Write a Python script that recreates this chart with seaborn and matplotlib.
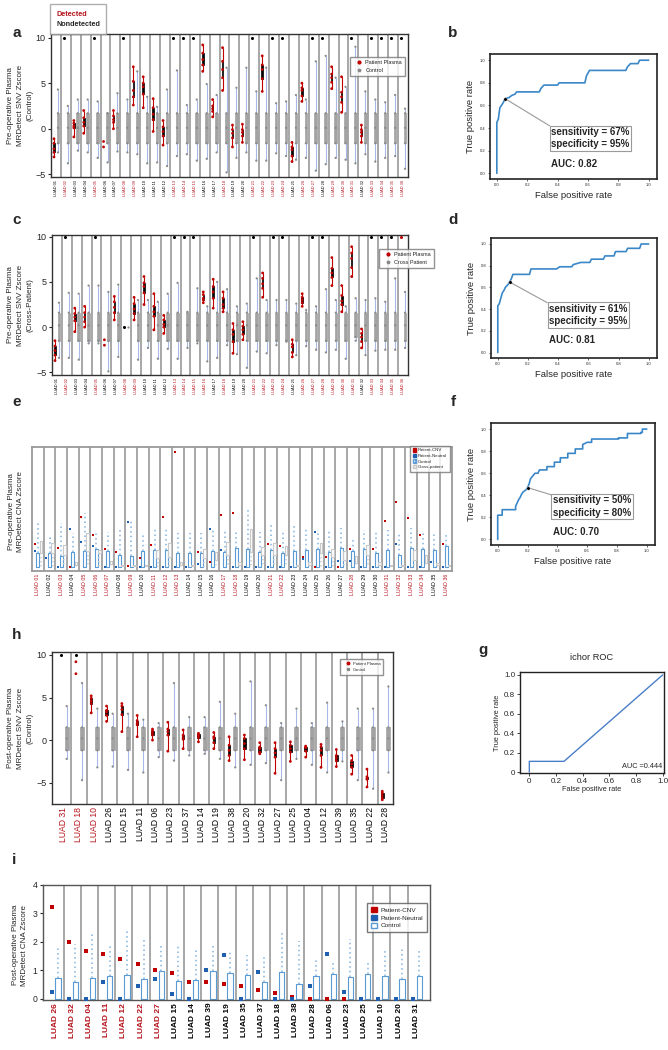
import numpy as np
import pandas as pd
import matplotlib
matplotlib.use("Agg")
import matplotlib.pyplot as plt
import seaborn as sns
from matplotlib.lines import Line2D
from matplotlib.patches import Patch

sns.set_theme(style="ticks")
plt.rcParams['font.family'] = ['Liberation Sans', 'DejaVu Sans']

# ---------------- data ----------------
luad36 = [f"LUAD {i:02d}" for i in range(1, 37)]

# panel a : pre-op SNV Z vs control
det_a = ["LUAD 02", "LUAD 05", "LUAD 08", "LUAD 09", "LUAD 13", "LUAD 14", "LUAD 15", "LUAD 18",
         "LUAD 21", "LUAD 22", "LUAD 23", "LUAD 24", "LUAD 26", "LUAD 27", "LUAD 29", "LUAD 30",
         "LUAD 31", "LUAD 33", "LUAD 34", "LUAD 35", "LUAD 36"]
top_a = ["LUAD 02", "LUAD 05", "LUAD 08", "LUAD 13", "LUAD 14", "LUAD 15", "LUAD 21", "LUAD 23",
         "LUAD 24", "LUAD 27", "LUAD 28", "LUAD 31", "LUAD 33", "LUAD 34", "LUAD 35", "LUAD 36"]
pat_a = {
    "LUAD 01": [-3.1, -2.6, -2.2, -1.6, -1.1], "LUAD 03": [-0.9, 0.1, 0.3, 0.6, 0.9],
    "LUAD 04": [-0.5, 0.3, 0.7, 1.2, 2.0], "LUAD 06": [-2.0, -1.4],
    "LUAD 07": [0.0, 0.7, 1.0, 1.4, 2.0], "LUAD 09": [2.6, 3.5, 4.2, 5.2, 6.8],
    "LUAD 10": [2.3, 3.8, 4.6, 5.0, 5.7], "LUAD 11": [-0.3, 1.0, 1.6, 2.3, 3.3],
    "LUAD 12": [-1.8, -0.8, -0.3, 0.2, 0.9], "LUAD 16": [6.3, 7.0, 7.6, 8.3, 9.2],
    "LUAD 17": [1.3, 1.9, 2.2, 2.5, 3.2], "LUAD 18": [4.2, 5.6, 6.5, 7.4, 8.9],
    "LUAD 19": [-2.0, -1.0, -0.5, -0.1, 0.4], "LUAD 20": [-1.5, -0.8, -0.4, -0.1, 0.5],
    "LUAD 22": [4.1, 5.5, 6.5, 7.0, 8.0], "LUAD 25": [-3.6, -3.0, -2.3, -2.0, -1.5],
    "LUAD 26": [3.0, 3.6, 4.2, 4.5, 5.0], "LUAD 29": [4.4, 5.1, 5.6, 6.0, 6.8],
    "LUAD 30": [1.8, 2.9, 3.5, 4.0, 5.7], "LUAD 32": [-1.5, -0.8, -0.4, -0.1, 0.4],
}
ctrl_box_a = [-1.6, 0.1, 1.7]
ctrl_lo_a = [-2.6, -3.8, -2.4, -2.6, -3.2, -3.7, -2.5, -2.6, -2.8, -3.8, -3.7, -4.1, -3.0, -2.8, -3.5, -3.3, -2.6, -4.8,
             -3.2, -2.6, -3.5, -3.5, -2.7, -3.0, -3.4, -3.2, -4.6, -3.9, -3.2, -3.4, -3.8, -2.8, -3.6, -3.2, -3.0, -4.4]
ctrl_hi_a = [4.3, 2.5, 3.2, 3.2, 3.0, 1.7, 3.9, 3.2, 6.3, 3.5, 2.4, 4.3, 6.4, 2.6, 3.2, 4.9, 3.7, 6.7,
             4.5, 6.7, 4.1, 6.7, 2.8, 3.0, 3.7, 3.2, 7.4, 8.0, 5.6, 4.6, 9.0, 4.1, 3.2, 2.9, 3.7, 2.2]

# panel c : pre-op SNV Z vs cross patient
det_c = det_a + ["LUAD 16", "LUAD 28"]
top_c = ["LUAD 02", "LUAD 05", "LUAD 13", "LUAD 14", "LUAD 15", "LUAD 21", "LUAD 23", "LUAD 24",
         "LUAD 27", "LUAD 28", "LUAD 33", "LUAD 34", "LUAD 35"]
top_red_c = ["LUAD 36"]
pat_c = {
    "LUAD 01": [-3.7, -3.1, -2.6, -2.1, -1.5], "LUAD 03": [-0.5, 0.7, 1.1, 1.5, 2.1],
    "LUAD 04": [0.0, 0.6, 1.1, 1.6, 2.3], "LUAD 06": [-2.0, -1.4],
    "LUAD 07": [0.8, 1.6, 2.2, 2.8, 3.4], "LUAD 09": [0.8, 1.5, 2.0, 2.6, 3.3],
    "LUAD 10": [2.5, 3.8, 4.5, 4.9, 5.6], "LUAD 11": [-0.3, 1.2, 1.7, 2.3, 3.7],
    "LUAD 12": [-0.7, 0.0, 0.3, 0.8, 1.3], "LUAD 16": [2.7, 3.0, 3.2, 3.6, 3.9],
    "LUAD 17": [2.1, 3.2, 3.9, 4.5, 5.3], "LUAD 18": [1.7, 2.1, 2.5, 3.2, 3.9],
    "LUAD 19": [-2.9, -1.6, -0.8, -0.3, 0.4], "LUAD 20": [-1.4, -0.8, -0.3, 0.1, 0.6],
    "LUAD 22": [3.3, 4.3, 4.8, 5.4, 6.0], "LUAD 25": [-3.3, -2.8, -2.2, -1.9, -1.4],
    "LUAD 26": [2.3, 2.7, 3.0, 3.3, 3.7], "LUAD 29": [4.6, 5.5, 6.0, 6.5, 7.7],
    "LUAD 30": [1.7, 2.5, 2.9, 3.5, 4.6], "LUAD 31": [5.6, 6.6, 7.6, 8.2, 8.9],
    "LUAD 32": [-2.3, -1.6, -1.1, -0.7, -0.2],
}
zero_c = ["LUAD 08"]
ctrl_box_c = [-1.5, 0.2, 1.6]
ctrl_lo_c = [-3.4, -3.4, -3.6, -1.8, -1.8, -4.9, -3.3, None, -3.6, -2.3, -3.5, -2.4, -3.5, -2.3, -1.8, -3.8, -3.4, -2.0,
             -3.0, -4.5, -2.7, -2.9, -2.0, -1.6, -3.1, -2.1, -2.5, -2.8, -2.5, -3.5, -1.1, -3.1, -2.6, -2.5, -2.5, -2.3]
ctrl_hi_c = [2.7, 3.8, 3.7, 4.6, 4.6, 3.9, 4.7, None, 3.0, 3.0, 2.8, 3.7, 4.9, 1.7, 4.3, 2.3, 5.0, 4.2,
             2.3, 2.6, 5.4, 3.0, 3.0, 3.0, 2.6, 1.9, 2.3, 4.2, 3.0, 2.3, 3.2, 3.0, 3.2, 2.8, 5.4, 3.9]

# panel e : pre-op CNA Z
det_e = ["LUAD 01", "LUAD 03", "LUAD 05", "LUAD 06", "LUAD 07", "LUAD 09", "LUAD 11", "LUAD 12", "LUAD 13",
         "LUAD 17", "LUAD 18", "LUAD 21", "LUAD 22", "LUAD 28", "LUAD 31", "LUAD 32", "LUAD 33", "LUAD 34", "LUAD 36"]
cnv_e = [1.24, None, 1.06, 0.0, 2.74, 1.76, 0.98, 0.83, 0.04, 0.5, 1.2, 2.78, 6.35, None, 0.83, 0.28, 2.87, 3.0,
         None, None, 1.26, 1.15, None, 0.52, 0.0, 0.52, 0.0, 0.96, None, 0.96, 2.54, 3.6, 2.72, 1.76, 0.24, 1.24]
neu_e = [0.89, 0.46, 0.0, 2.09, 1.37, 1.15, 0.0, 0.0, 2.5, 0.0, 0.0, 0.0, 0.0, 0.0, 0.13, 2.07, 0.93, 0.0,
         0.0, 0.0, 0.0, 0.0, 0.0, 0.41, 1.9, 0.0, 0.33, 0.33, 0.0, 0.0, 0.0, 1.24, 0.0, 0.0, 0.28, 0.0]
ctrl_q3_e = [0.74, 0.74, 0.59, 0.83, 0.87, 0.96, 0.87, 0.65, 0.61, 0.87, 0.93, 0.93, 0.78, 0.74, 0.74, 0.87, 0.83, 1.02,
             0.98, 0.83, 0.93, 0.78, 0.87, 0.93, 0.96, 0.83, 1.06, 0.87, 0.96, 0.74, 0.93, 0.65, 1.02, 0.96, 0.93, 1.15]
ctrl_top_e = [2.44, 1.76, 2.44, 1.85, 2.96, 1.85, 1.94, 2.2, 2.6, 1.85, 2.13, 2.07, 2.0, 2.0, 1.85, 2.04, 2.04, 2.04,
              3.24, 1.94, 2.3, 2.04, 2.3, 2.13, 2.04, 2.04, 2.13, 1.57, 2.04, 1.94, 2.04, 1.94, 2.13, 1.85, 1.85, 1.8]
cross_q1_e = [0.74, 0.74, 0.65, 0.10, 0.87, 0.74, 0.13, 0.05, 0.05, 0.05, 0.46, 0.56, 0.1, 0.05, 0.46, 0.37, 0.65, 0.1,
              0.83, 0.65, 0.65, 0.65, 0.05, 0.1, 0.74, 0.56, 0.37, 0.19, 0.65, 0.1, 0.05, 0.05, 0.37, 0.19, 0.1, 0.05]
cross_q3_e = [1.44, 1.33, 1.2, 0.28, 1.85, 0.93, 0.3, 0.1, 0.1, 0.1, 0.93, 1.33, 0.28, 0.1, 0.98, 0.83, 1.39, 0.28,
              2.07, 1.11, 1.3, 1.15, 0.1, 0.28, 1.3, 0.96, 0.89, 0.59, 1.2, 0.28, 0.1, 0.1, 0.93, 0.65, 0.19, 0.1]

# panel h : post-op SNV Z vs control
names_h = ["LUAD 31", "LUAD 18", "LUAD 10", "LUAD 26", "LUAD 15", "LUAD 11", "LUAD 06", "LUAD 23", "LUAD 37",
           "LUAD 14", "LUAD 19", "LUAD 38", "LUAD 20", "LUAD 32", "LUAD 27", "LUAD 25", "LUAD 04", "LUAD 12",
           "LUAD 39", "LUAD 35", "LUAD 22", "LUAD 28"]
det_h = ["LUAD 31", "LUAD 18", "LUAD 10"]
top_h = ["LUAD 31", "LUAD 18"]
pat_h = {
    "LUAD 18": [7.8, 9.2], "LUAD 10": [3.2, 4.3, 4.6, 4.9, 5.2], "LUAD 26": [2.2, 2.9, 3.3, 3.5, 4.0],
    "LUAD 15": [1.0, 3.0, 3.6, 4.0, 4.3], "LUAD 11": [0.4, 1.8, 2.0, 2.3, 2.9],
    "LUAD 06": [0.0, 0.6, 0.9, 1.1, 1.3], "LUAD 23": [-1.3, 0.6, 1.0, 1.3, 2.1],
    "LUAD 37": [-1.0, 0.1, 0.3, 0.6, 1.2], "LUAD 14": [-0.2, 0.3, 0.5, 0.7, 0.8],
    "LUAD 19": [-1.0, -0.3, 0.2, 0.4, 0.9], "LUAD 38": [-2.4, -1.8, -1.2, -0.6, 0.4],
    "LUAD 20": [-2.3, -1.0, -0.4, 0.2, 0.6], "LUAD 32": [-1.6, -1.4, -1.0, -0.8, -0.3],
    "LUAD 27": [-3.9, -2.0, -1.5, -1.0, -0.3], "LUAD 25": [-2.5, -1.4, -1.0, -0.6, -0.2],
    "LUAD 04": [-2.0, -1.3, -0.9, -0.8, -0.7], "LUAD 12": [-3.2, -1.8, -1.2, -0.8, -0.5],
    "LUAD 39": [-3.1, -2.4, -2.1, -1.8, -1.1], "LUAD 35": [-4.0, -3.2, -2.8, -2.4, -1.8],
    "LUAD 22": [-5.5, -4.6, -4.5, -4.3, -3.4], "LUAD 28": [-7.0, -6.8, -6.5, -6.2, -6.0],
}
ctrl_box_h = [-1.2, 0.2, 1.5]
ctrl_lo_h = [-2.2, -4.7, -3.2, -3.1, -3.5, -3.8, -2.0, -2.4, -1.8, -1.6, -2.2, -3.2, -2.9, -2.7, -4.7, -2.2,
             -2.9, -3.8, -2.5, -4.7, -5.7, -3.8]
ctrl_hi_h = [4.0, 6.7, 3.7, 3.1, 3.1, 2.4, 2.0, 6.7, 2.7, 2.7, 4.5, 3.1, 6.9, 4.1, 2.0, 3.7, 2.0, 4.4, 2.2,
             3.7, 3.7, 6.3]

# panel i : post-op CNA Z
names_i = ["LUAD 26", "LUAD 32", "LUAD 04", "LUAD 11", "LUAD 12", "LUAD 22", "LUAD 27", "LUAD 15", "LUAD 14",
           "LUAD 39", "LUAD 19", "LUAD 35", "LUAD 37", "LUAD 18", "LUAD 38", "LUAD 28", "LUAD 06", "LUAD 23",
           "LUAD 25", "LUAD 10", "LUAD 20", "LUAD 31"]
det_i = names_i[:7]
cnv_i = [3.22, 2.01, 1.68, 1.58, 1.39, 1.23, 1.0, 0.89, 0.6, 0.58, 0.5, 0.43, 0.29, 0.21, 0.07, 0.0, 0.0, 0.0,
         None, None, None, None]
neu_i = [0.23, 0.0, 0.0, 0.58, 0.0, 0.43, 0.7, 0.16, 0.0, 1.0, 1.53, 0.0, 0.93, 0.0, 0.0, 0.46, 1.58, 0.22,
         0.0, 0.0, 0.0, 0.0]
ctrl_q3_i = [0.73, 0.6, 0.73, 0.8, 0.82, 0.68, 0.97, 0.63, 0.67, 0.97, 0.9, 0.83, 0.6, 0.93, 0.5, 0.8, 0.88, 0.75,
             0.87, 0.78, 0.7, 0.8]
ctrl_top_i = [1.85, 1.92, 2.27, 1.92, 2.38, 2.17, 1.92, 1.84, 1.78, 1.96, 1.66, 1.52, 1.55, 2.33, 2.03, 1.38, 1.36,
              2.1, 1.36, 1.72, 1.78, 1.79]

# ROC curves
fpr_b = [0, 0, 0.01, 0.02, 0.03, 0.04, 0.055, 0.08, 0.1, 0.12, 0.13, 0.28, 0.29, 0.31, 0.40, 0.41, 0.58, 0.59,
         0.61, 0.85, 0.86, 0.88, 0.93, 0.94, 1.0]
tpr_b = [0, 0.45, 0.48, 0.58, 0.60, 0.62, 0.66, 0.67, 0.69, 0.70, 0.72, 0.72, 0.75, 0.78, 0.78, 0.80, 0.80, 0.86,
         0.91, 0.91, 0.94, 0.97, 0.97, 1.0, 1.0]
fpr_d = [0, 0, 0.01, 0.02, 0.03, 0.04, 0.05, 0.07, 0.078, 0.09, 0.1, 0.21, 0.22, 0.39, 0.41, 0.49, 0.5, 0.55, 0.61,
         0.62, 0.7, 0.71, 0.77, 0.78, 0.85, 0.86, 0.94, 0.95, 1.0]
tpr_d = [0, 0.43, 0.45, 0.5, 0.55, 0.57, 0.6, 0.63, 0.65, 0.68, 0.72, 0.72, 0.77, 0.77, 0.79, 0.79, 0.81, 0.83,
         0.83, 0.86, 0.86, 0.89, 0.89, 0.93, 0.93, 0.96, 0.96, 1.0, 1.0]
fpr_f = [0, 0, 0.03, 0.03, 0.12, 0.12, 0.13, 0.14, 0.15, 0.16, 0.17, 0.19, 0.2, 0.21, 0.22, 0.25, 0.27, 0.28, 0.33,
         0.33, 0.38, 0.38, 0.42, 0.42, 0.47, 0.47, 0.52, 0.52, 0.57, 0.57, 0.6, 0.63, 0.63, 0.81, 0.81, 0.87, 0.87,
         0.96, 0.96, 0.97, 0.97, 1.0]
tpr_f = [0, 0.22, 0.22, 0.27, 0.27, 0.30, 0.33, 0.36, 0.38, 0.41, 0.43, 0.45, 0.47, 0.5, 0.55, 0.6, 0.6, 0.63, 0.63,
         0.66, 0.66, 0.70, 0.70, 0.74, 0.74, 0.78, 0.78, 0.82, 0.82, 0.86, 0.88, 0.88, 0.91, 0.91, 0.92, 0.92, 0.96,
         0.96, 0.97, 0.97, 1.0, 1.0]
fpr_g = [0, 0, 0.26, 1.0]
tpr_g = [0, 0.11, 0.11, 1.0]

# ---------------- style ----------------
RED = "#c00000"
LABRED = "#b5121b"
GRAY = "#a3a3a3"
WHISK = "#a9b8e6"
BLUE = "#1f5fb0"
BOXBLUE = "#5b9bd5"
LTBLUE = "#9dc3e6"
ROC = "#3a87c8"
COLS = ["sample", "group", "value"]

W, H = 668, 1050
fig = plt.figure(figsize=(W / 100, H / 100), dpi=100)


def px_axes(x0, y0, x1, y1):
    return fig.add_axes([x0 / W, 1 - y1 / H, (x1 - x0) / W, (y1 - y0) / H])


def frame(ax, color="#333333", lw=1.0):
    for s in ax.spines.values():
        s.set_visible(True)
        s.set_color(color)
        s.set_linewidth(lw)


def label_ticks(ax, names, det, size, weight="normal"):
    ax.set_xticks(range(len(names)))
    ax.set_xticklabels(names, rotation=90, fontsize=size, fontweight=weight)
    for t in ax.get_xticklabels():
        t.set_color(LABRED if t.get_text() in det else "black")
    ax.tick_params(axis="x", length=0, pad=2)
    ax.set_xlabel("")
    ax.set_ylabel("")


def separators(ax, n, color="#a0a0a0", lw=1.3):
    for i in range(n - 1):
        ax.axvline(i + 0.5, color=color, lw=lw, zorder=0)


def snv_panel(ax, names, det, pat, top, lo, hi, box, ylim, top_red=(), zero=(), lab_size=2.9,
              lab_weight="normal"):
    rows = []
    for n, l, h in zip(names, lo, hi):
        vals = [0.0] if l is None else [l, *box, h]
        rows += [(n, "Control", v) for v in vals]
    ctrl = pd.DataFrame(rows, columns=COLS)
    pdf = pd.DataFrame([(n, "Patient", v) for n, vs in pat.items() for v in vs], columns=COLS)
    full = pdf[pdf.groupby("sample")["value"].transform("size") >= 5]
    kw = dict(x="sample", y="value", hue="group", hue_order=["Patient", "Control"], order=names,
              dodge=True, ax=ax, legend=False)
    sns.boxplot(data=ctrl[ctrl.groupby("sample")["value"].transform("size") >= 5], width=0.8, gap=0.35,
                whis=(0, 100), showcaps=False, showfliers=False,
                palette={"Patient": "black", "Control": GRAY}, linecolor=GRAY, linewidth=0.5,
                whiskerprops={"color": WHISK, "linewidth": 0.8}, **kw)
    sns.stripplot(data=ctrl, jitter=False, size=1.6, linewidth=0,
                  palette={"Patient": "#8a8a8a", "Control": "#8a8a8a"}, **kw)
    sns.stripplot(data=pdf, jitter=False, size=2.0, linewidth=0,
                  palette={"Patient": RED, "Control": RED}, **kw)
    sns.boxplot(data=full, width=0.8, gap=0.6, whis=(0, 100), showcaps=False, showfliers=False,
                palette={"Patient": "black", "Control": "black"}, linecolor="black", linewidth=0.5,
                whiskerprops={"color": RED, "linewidth": 0.8}, **kw)
    for lst, col in ((top, "black"), (top_red, RED), (zero, "black")):
        if len(lst) == 0:
            continue
        yv = 0.0 if lst is zero else 10.0
        tdf = pd.DataFrame([(n, "Patient", yv) for n in lst], columns=COLS)
        sns.stripplot(data=tdf, jitter=False, size=2.2, linewidth=0, clip_on=False,
                      palette={"Patient": col, "Control": col}, **kw)
    separators(ax, len(names))
    ax.set_xlim(-0.5, len(names) - 0.5)
    ax.set_ylim(*ylim)
    ax.set_yticks([-5, 0, 5, 10])
    ax.tick_params(axis="y", labelsize=6.5, length=2.5, width=0.8, pad=1.5)
    label_ticks(ax, names, det, lab_size, lab_weight)
    frame(ax)


def cna_panel(ax, names, det, cnv, neu, q3, top, cq1=None, cq3=None, sq=2.0, width=0.8):
    groups = ["Patient", "Control", "Cross"] if cq1 is not None else ["Patient", "Control"]
    kw = dict(x="sample", y="value", hue="group", hue_order=groups, order=names, dodge=True, ax=ax,
              legend=False)
    ctrl = pd.DataFrame([(n, "Control", v) for n, a, b in zip(names, q3, top) for v in (0.0, 0.0, 0.0, a, b)],
                        columns=COLS)
    sns.boxplot(data=ctrl, width=width, gap=0.1, whis=(0, 100), fill=False, showcaps=False, showfliers=False,
                palette={g: BOXBLUE for g in groups}, linewidth=0.8,
                whiskerprops={"color": LTBLUE, "linewidth": 1.4, "linestyle": (0, (0.8, 1.6))},
                medianprops={"linewidth": 0}, **kw)
    if cq1 is not None:
        cross = pd.DataFrame([(n, "Cross", v) for n, a, b in zip(names, cq1, cq3) for v in (0.0, a, a, b, b)],
                             columns=COLS)
        sns.boxplot(data=cross, width=width, gap=0.1, whis=(0, 100), fill=False, showcaps=False,
                    showfliers=False, palette={g: "#c8c8c8" for g in groups}, linewidth=0.8,
                    whiskerprops={"color": "#d0d0d0", "linewidth": 1.2, "linestyle": (0, (0.8, 1.6))},
                    medianprops={"linewidth": 0}, **kw)
    for vals, col in ((cnv, RED), (neu, BLUE)):
        pdf = pd.DataFrame([(n, "Patient", v) for n, v in zip(names, vals) if v is not None], columns=COLS)
        sns.stripplot(data=pdf, jitter=False, marker="s", size=sq, linewidth=0, clip_on=False,
                      palette={g: col for g in groups}, **kw)
    separators(ax, len(names))


# ---------------- Detected / Nondetected key ----------------
leg0 = fig.legend([Line2D([], [], linestyle="none")] * 2, ["Detected", "Nondetected"],
                  loc="upper left", bbox_to_anchor=(46 / W, 1 - 0.5 / H), handlelength=0, handletextpad=0,
                  prop={"weight": "bold", "size": 5.2}, frameon=True, fancybox=False, edgecolor="#9a9a9a",
                  borderpad=0.9, labelspacing=0.4)
leg0.get_texts()[0].set_color(LABRED)

# ---------------- panel a ----------------
ax_a = px_axes(51, 34, 408, 177)
snv_panel(ax_a, luad36, det_a, pat_a, top_a, ctrl_lo_a, ctrl_hi_a, ctrl_box_a, (-5.3, 10.4))
ax_a.legend([Line2D([], [], marker="o", ls="none", color=RED, ms=2),
             Line2D([], [], marker="*", ls="none", color="#8a8a8a", ms=2.5)],
            ["Patient Plasma", "Control"], loc="upper right", bbox_to_anchor=(1.0, 0.86), fontsize=4,
            frameon=True, fancybox=False, edgecolor="#777777", handletextpad=0.2, borderpad=0.6)

# ---------------- panel c ----------------
ax_c = px_axes(52, 235, 408, 375)
snv_panel(ax_c, luad36, det_c, pat_c, top_c, ctrl_lo_c, ctrl_hi_c, ctrl_box_c, (-5.3, 10.2),
          top_red=top_red_c, zero=zero_c)
ax_c.legend([Line2D([], [], marker="o", ls="none", color=RED, ms=2),
             Line2D([], [], marker="*", ls="none", color="#8a8a8a", ms=2.5)],
            ["Patient Plasma", "Cross Patient"], loc="upper left", bbox_to_anchor=(0.91, 0.92), fontsize=4,
            frameon=True, fancybox=False, edgecolor="#777777", handletextpad=0.2, borderpad=0.6)

# ---------------- panel e ----------------
ax_e = px_axes(32, 447, 452, 571)
cna_panel(ax_e, luad36, det_e, cnv_e, neu_e, ctrl_q3_e, ctrl_top_e, cross_q1_e, cross_q3_e, sq=2.0)
ax_e.set_xlim(-0.5, 35.5)
ax_e.set_ylim(-0.24, 6.65)
ax_e.set_yticks([])
label_ticks(ax_e, luad36, det_e, 3.8)
frame(ax_e, color="#9a9a9a", lw=1.3)
ax_e.legend([Patch(fc=RED, ec=RED), Patch(fc=BLUE, ec=BLUE), Patch(fc="#dbe8f6", ec=BOXBLUE, hatch="xxx"),
             Patch(fc="#f0f0f0", ec="#c8c8c8")],
            ["Patient-CNV", "Patient-Neutral", "Control", "Cross-patient"], loc="upper right",
            bbox_to_anchor=(1.0, 1.03), fontsize=3.2, frameon=True, fancybox=False, edgecolor="#777777",
            handlelength=0.8, handleheight=0.8, handletextpad=0.4, borderpad=0.6, labelspacing=0.3)

# ---------------- panel h ----------------
ax_h = px_axes(52, 652, 393, 804)
snv_panel(ax_h, names_h, det_h, pat_h, top_h, ctrl_lo_h, ctrl_hi_h, ctrl_box_h, (-7.5, 10.35),
          lab_size=6.2)
ax_h.set_xlim(-0.76, 21.5)
ax_h.legend([Line2D([], [], marker="o", ls="none", color=RED, ms=1.8),
             Line2D([], [], marker="*", ls="none", color="#8a8a8a", ms=2.2)],
            ["Patient Plasma", "Control"], loc="upper right", bbox_to_anchor=(0.977, 0.97), fontsize=3,
            frameon=True, fancybox=False, edgecolor="#777777", handletextpad=0.2, borderpad=0.7)

# ---------------- panel i ----------------
ax_i = px_axes(43, 885, 430, 1000)
cna_panel(ax_i, names_i, det_i, cnv_i, neu_i, ctrl_q3_i, ctrl_top_i, sq=3.0, width=0.7)
ax_i.set_xlim(-0.7, 21.8)
ax_i.set_ylim(-0.05, 4.0)
ax_i.set_yticks([0, 1, 2, 3, 4])
ax_i.tick_params(axis="y", labelsize=6.2, length=2.5, width=0.8, pad=1.5)
label_ticks(ax_i, names_i, det_i, 6.0, "bold")
frame(ax_i, color="#555555", lw=1.0)
ax_i.legend([Patch(fc=RED, ec=RED), Patch(fc=BLUE, ec=BLUE), Patch(fc="white", ec=BOXBLUE)],
            ["Patient-CNV", "Patient-Neutral", "Control"], loc="upper right", bbox_to_anchor=(1.0, 0.87),
            fontsize=4.6, frameon=True, fancybox=False, edgecolor="#555555", handlelength=0.9,
            handleheight=0.9, handletextpad=0.6, borderpad=0.6, labelspacing=0.3)


# ---------------- ROC panels ----------------
def roc_panel(ax, fpr, tpr, pt, box_xy, sens, spec, auc, auc_y):
    sns.lineplot(x=fpr, y=tpr, sort=False, estimator=None, color=ROC, lw=1.2, ax=ax)
    sns.scatterplot(x=[pt[0]], y=[pt[1]], color="black", s=6, zorder=5, ax=ax)
    ax.annotate(f"sensitivity = {sens}%\nspecificity = {spec}%", xy=pt, xytext=box_xy, ha="left", va="top",
                fontsize=7, fontweight="bold", linespacing=1.3,
                bbox=dict(boxstyle="square,pad=0.15", fc="white", ec="#9a9a9a", lw=0.8),
                arrowprops=dict(arrowstyle="-", color="#9a9a9a", lw=0.8, relpos=(0, 1), shrinkA=0, shrinkB=0))
    ax.text(box_xy[0], auc_y, f"AUC: {auc}", ha="left", va="top", fontsize=7, fontweight="bold")
    ax.set_xlim(-0.045, 1.055)
    ax.set_ylim(-0.05, 1.055)
    ticks = [0, 0.2, 0.4, 0.6, 0.8, 1.0]
    ax.set_xticks(ticks)
    ax.set_yticks(ticks)
    ax.set_xticklabels([f"{t:.1f}" for t in ticks])
    ax.set_yticklabels([f"{t:.1f}" for t in ticks])
    ax.tick_params(labelsize=3, length=1.5, width=0.5, pad=1.5)
    ax.set_xlabel("False positive rate", fontsize=6.8, labelpad=3)
    ax.set_ylabel("True positive rate", fontsize=6.8, labelpad=4)
    frame(ax, color="#222222", lw=1.2)


ax_b = px_axes(490, 54, 657, 179)
roc_panel(ax_b, fpr_b, tpr_b, (0.055, 0.66), (0.36, 0.41), 67, 95, "0.82", 0.125)
ax_d = px_axes(491, 238, 657, 358)
roc_panel(ax_d, fpr_d, tpr_d, (0.078, 0.65), (0.34, 0.45), 61, 95, "0.81", 0.165)
ax_f = px_axes(491, 423, 655, 545)
roc_panel(ax_f, fpr_f, tpr_f, (0.2, 0.47), (0.37, 0.40), 50, 80, "0.70", 0.115)

# ---------------- panel g ----------------
ax_g = px_axes(520, 672, 664, 773)
sns.lineplot(x=fpr_g, y=tpr_g, sort=False, estimator=None, color="#4a7ec8", lw=1.0, ax=ax_g)
ax_g.set_xlim(-0.07, 1.01)
ax_g.set_ylim(-0.01, 1.03)
ax_g.set_xticks([0, 0.2, 0.4, 0.6, 0.8, 1.0])
ax_g.set_xticklabels(["0", "0.2", "0.4", "0.6", "0.8", "1.0"])
ax_g.set_yticks([0, 0.2, 0.4, 0.6, 0.8, 1.0])
ax_g.set_yticklabels(["0", "0.2", "0.4", "0.6", "0.8", "1.0"])
ax_g.tick_params(labelsize=5.8, length=2, width=0.6, pad=1.5)
ax_g.set_xlabel("False positive rate", fontsize=5.3, labelpad=1)
ax_g.set_ylabel("True positive rate", fontsize=5.3, labelpad=2)
ax_g.set_title("ichor ROC", fontsize=6.7, pad=9)
ax_g.text(0.99, 0.03, "AUC =0.444", transform=ax_g.transAxes, ha="right", va="bottom", fontsize=5.3)
frame(ax_g, color="#222222", lw=1.0)

# ---------------- y labels and panel letters ----------------
ylabs = [
    ("Pre-operative Plasma\nMRDetect SNV Zscore\n(Control)", 20, (34 + 177) / 2),
    ("Pre-operative Plasma\nMRDetect SNV Zscore\n(Cross-Patient)", 20, (235 + 375) / 2),
    ("Pre-operative Plasma\nMRDetect CNA Zscore", 16, 512),
    ("Post-operative Plasma\nMRDetect SNV Zscore\n(Control)", 20, (652 + 804) / 2),
    ("Post-operative Plasma\nMRDetect CNA Zscore", 20, 945),
]
for txt, x, y in ylabs:
    fig.text(x / W, 1 - y / H, txt, rotation=90, ha="center", va="center", fontsize=5.8, linespacing=1.55)

letters = [("a", 17, 33), ("b", 453, 33), ("c", 17, 220), ("d", 453, 220), ("e", 17, 402), ("f", 453, 402),
           ("h", 17, 635), ("g", 483, 650), ("i", 14, 860)]
for t, x, y in letters:
    fig.text(x / W, 1 - y / H, t, ha="center", va="center", fontsize=11, fontweight="bold")

fig.savefig("out.png", dpi=100)
